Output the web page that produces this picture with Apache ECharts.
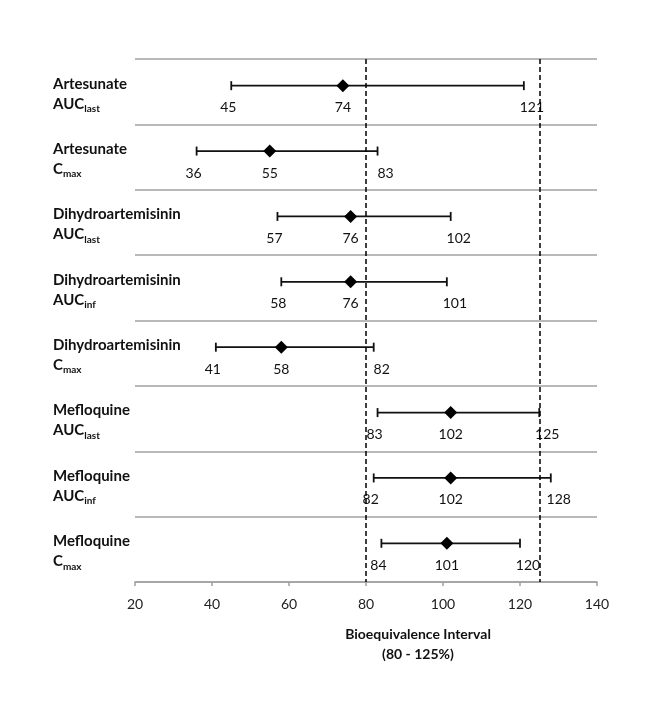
<!DOCTYPE html>
<html>
<head>
<meta charset="utf-8">
<script src="https://cdn.jsdelivr.net/npm/echarts@6/dist/echarts.min.js"></script>
<style>
html,body{margin:0;padding:0;background:#fff;}
#c{width:653px;height:708px;}
</style>
</head>
<body>
<div id="c"></div>
<script>
// ---- data ----
const drugs = ['Artesunate','Artesunate','Dihydroartemisinin','Dihydroartemisinin','Dihydroartemisinin','Mefloquine','Mefloquine','Mefloquine'];
const paramBase = ['AUC','C','AUC','AUC','C','AUC','AUC','C'];
const paramSub = ['last','max','last','inf','max','last','inf','max'];
const lower = [45, 36, 57, 58, 41, 83, 82, 84];
const point = [74, 55, 76, 76, 58, 102, 102, 101];
const upper = [121, 83, 102, 101, 82, 125, 128, 120];
const limits = [80, 125];
const xTicks = [20, 40, 60, 80, 100, 120, 140];
const xTitle = ['Bioequivalence Interval', '(80 - 125%)'];

const categories = drugs.map((d, i) => d + '|' + paramBase[i] + '|' + paramSub[i]);
const seriesData = lower.map((lo, i) => [point[i], i, lo, upper[i]]);

const FONT = 'Lato, "Open Sans", sans-serif';
const chart = echarts.init(document.getElementById('c'));

chart.setOption({
  backgroundColor: '#fff',
  animation: false,
  grid: { left: 135, right: 56, top: 59, bottom: 126 },
  xAxis: {
    type: 'value',
    min: xTicks[0],
    max: xTicks[xTicks.length - 1],
    interval: 20,
    axisLine: { show: true, lineStyle: { color: '#a0a0a0', width: 1.5 } },
    axisTick: { show: true, length: 4, lineStyle: { color: '#a0a0a0', width: 1.5 } },
    splitLine: { show: false },
    axisLabel: { color: '#222', fontSize: 14, fontFamily: FONT, margin: 15 }
  },
  yAxis: {
    type: 'category',
    inverse: true,
    data: categories,
    axisLine: { show: false },
    axisTick: { show: false },
    splitLine: { show: true, lineStyle: { color: '#a0a0a0', width: 1.5 } },
    axisLabel: {
      align: 'left',
      margin: 82,
      lineHeight: 20,
      padding: [4, 0, 0, 0],
      formatter: function (v) {
        const p = v.split('|');
        return '{b|' + p[0] + '}\n{b|' + p[1] + '}{s|' + p[2] + '}';
      },
      rich: {
        b: { fontFamily: FONT, fontWeight: 'bold', fontSize: 15, color: '#111', lineHeight: 20 },
        s: { fontFamily: FONT, fontWeight: 'bold', fontSize: 10, color: '#111', lineHeight: 20, verticalAlign: 'bottom' }
      }
    }
  },
  series: [{
    type: 'custom',
    data: seriesData,
    encode: { x: 0, y: 1 },
    renderItem: function (params, api) {
      const cat = api.value(1);
      const pLo = api.coord([api.value(2), cat]);
      const pPt = api.coord([api.value(0), cat]);
      const pHi = api.coord([api.value(3), cat]);
      const y = pPt[1] - 6;
      const ty = pPt[1] + 16;
      const stroke = { stroke: '#111', lineWidth: 1.8 };
      const d = 6.5;
      const txt = (t, x) => ({
        type: 'text',
        style: { text: String(t), x: x, y: ty, align: 'center', verticalAlign: 'middle', fill: '#111', fontSize: 14, fontFamily: FONT }
      });
      return {
        type: 'group',
        children: [
          { type: 'line', shape: { x1: pLo[0], y1: y, x2: pHi[0], y2: y }, style: stroke },
          { type: 'line', shape: { x1: pLo[0], y1: y - 4.5, x2: pLo[0], y2: y + 4.5 }, style: stroke },
          { type: 'line', shape: { x1: pHi[0], y1: y - 4.5, x2: pHi[0], y2: y + 4.5 }, style: stroke },
          { type: 'polygon', shape: { points: [[pPt[0], y - d], [pPt[0] + d, y], [pPt[0], y + d], [pPt[0] - d, y]] }, style: { fill: '#000' } },
          txt(api.value(2), pLo[0] - 3),
          txt(api.value(0), pPt[0]),
          txt(api.value(3), pHi[0] + 8)
        ]
      };
    },
    z: 3
  }, {
    type: 'line',
    data: [],
    markLine: {
      silent: true,
      symbol: ['none', 'none'],
      label: { show: false },
      lineStyle: { color: '#000', type: [5, 3], width: 1.5 },
      data: limits.map(v => ({ xAxis: v }))
    },
    z: 4
  }],
  graphic: [{
    type: 'text',
    x: 418,
    y: 624,
    style: {
      text: xTitle.join('\n'),
      align: 'center',
      verticalAlign: 'top',
      fill: '#111',
      fontSize: 14,
      fontWeight: 'bold',
      fontFamily: FONT,
      lineHeight: 20
    }
  }]
});
</script>
</body>
</html>
